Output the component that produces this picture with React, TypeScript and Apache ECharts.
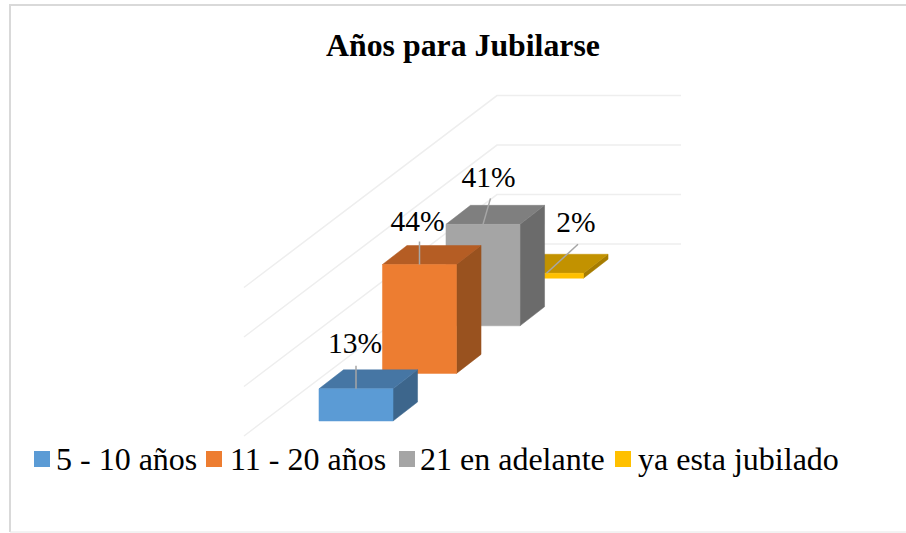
import React, { useEffect, useRef } from "react";
import * as echarts from "echarts";

const titleText = "Años para Jubilarse";
const categories = ["5 - 10 años", "11 - 20 años", "21 en adelante", "ya esta jubilado"];
const percentages = [13, 44, 41, 2];
const gridValues = [0, 20, 40, 60];
const frontColors = ["#5B9BD5", "#ED7D31", "#A5A5A5", "#FFC000"];
const topColors = ["#4676A4", "#B55D24", "#7F7F7F", "#C29200"];
const sideColors = ["#3D668C", "#99521F", "#6B6B6B", "#A67C00"];
// label and leader offsets from the middle of each bar's top front edge, in px
const labelOffsets = [[-1, -46], [-2, -44], [5.5, -47], [29.5, -51]];
const leaderOffsets = [[0, -23], [0, -23], [7.5, -26], [31.5, -29]];
const legendLefts = [34, 206, 399, 615];
const legendTextPads = [1, 3, 0, 2];

const FONT = '"Liberation Serif", "Times New Roman", serif';
// oblique projection, in axis units
const STEP_UP = 19.23;
const HALF_W = 0.583;
const DEPTH_X = 0.386;
const DEPTH_UP = 7.68;
const CORNER_X = 2.22;
const CORNER_UP = 71.5;
const WALL_X0 = -1.764;
const WALL_UP0 = -6.06;
const WALL_END_X = 5.118;

const barRender = (_p: any, api: any) => {
  const i = api.value(0);
  const v = api.value(1);
  const base = i * STEP_UP;
  const pt = (x: number, up: number) => api.coord([x, up]);
  const l = i - HALF_W, r = i + HALF_W;
  const fbl = pt(l, base), fbr = pt(r, base), ftl = pt(l, base + v), ftr = pt(r, base + v);
  const bbr = pt(r + DEPTH_X, base + DEPTH_UP);
  const btl = pt(l + DEPTH_X, base + v + DEPTH_UP), btr = pt(r + DEPTH_X, base + v + DEPTH_UP);
  const mid = pt(i, base + v);
  const poly = (points: number[][], fill: string) => ({
    type: "polygon",
    shape: { points },
    style: { fill, stroke: fill, lineWidth: 0.5 },
  });
  return {
    type: "group",
    children: [
      poly([fbr, bbr, btr, ftr], sideColors[i]),
      poly([ftl, ftr, btr, btl], topColors[i]),
      poly([fbl, fbr, ftr, ftl], frontColors[i]),
      {
        type: "line",
        shape: { x1: mid[0] + leaderOffsets[i][0], y1: mid[1] + leaderOffsets[i][1], x2: mid[0], y2: mid[1] },
        style: { stroke: "#A6A6A6", lineWidth: 1.5 },
      },
      {
        type: "text",
        x: mid[0] + labelOffsets[i][0],
        y: mid[1] + labelOffsets[i][1],
        style: {
          text: v + "%",
          font: `29.5px ${FONT}`,
          fill: "#000000",
          textAlign: "center",
          textVerticalAlign: "middle",
        },
      },
    ],
  };
};

const wallRender = (_p: any, api: any) => {
  const v = api.value(0);
  const a = api.coord([WALL_X0, WALL_UP0 + v]);
  const b = api.coord([CORNER_X, CORNER_UP + v]);
  const c = api.coord([WALL_END_X, CORNER_UP + v]);
  return {
    type: "polyline",
    shape: { points: [a, b, c] },
    style: { fill: "none", stroke: "#EEEEEE", lineWidth: 1.5 },
  };
};

export default function App() {
  const ref = useRef<HTMLDivElement>(null);
  useEffect(() => {
    const chart = echarts.init(ref.current!, undefined, { renderer: "svg" });
    chart.setOption({
      animation: false,
      backgroundColor: "#ffffff",
      title: {
        text: titleText,
        left: 458,
        top: 24,
        textAlign: "center",
        textStyle: { fontFamily: FONT, fontWeight: "bold", fontSize: 31.8, color: "#000000" },
      },
      legend: categories.map((name, i) => ({
        left: legendLefts[i],
        top: 443,
        padding: 0,
        icon: "rect",
        itemWidth: 16,
        itemHeight: 16,
        textStyle: { fontFamily: FONT, fontSize: 32, color: "#000000", padding: [0, 0, 0, legendTextPads[i]] },
        data: [{ name, itemStyle: { color: frontColors[i] } }],
      })),
      grid: { left: 229, width: 457.2, top: 74.5, height: 346.5 },
      xAxis: { type: "value", min: -2, max: 5.2, show: false },
      yAxis: { type: "value", min: 0, max: 140, show: false },
      graphic: [
        { type: "line", shape: { x1: 10, y1: 5, x2: 906, y2: 5 }, style: { stroke: "#D9D9D9", lineWidth: 2 } },
        { type: "line", shape: { x1: 10, y1: 4, x2: 10, y2: 532 }, style: { stroke: "#D9D9D9", lineWidth: 2 } },
        { type: "line", shape: { x1: 10, y1: 532, x2: 906, y2: 532 }, style: { stroke: "#E6E6E6", lineWidth: 1 } },
      ],
      series: [
        {
          type: "custom",
          name: "wall",
          silent: true,
          z: 1,
          clip: false,
          renderItem: wallRender,
          encode: { x: 0, y: 0 },
          data: gridValues.map((v) => [v]),
        },
        ...categories.map((name, i) => ({
          type: "custom",
          name,
          z: 10 - i,
          clip: false,
          renderItem: barRender,
          encode: { x: 0, y: 1 },
          data: [[i, percentages[i]]],
        })),
      ],
    });
    return () => chart.dispose();
  }, []);
  return <div ref={ref} style={{ position: "absolute", left: 0, top: 0, width: 906, height: 533 }} />;
}
